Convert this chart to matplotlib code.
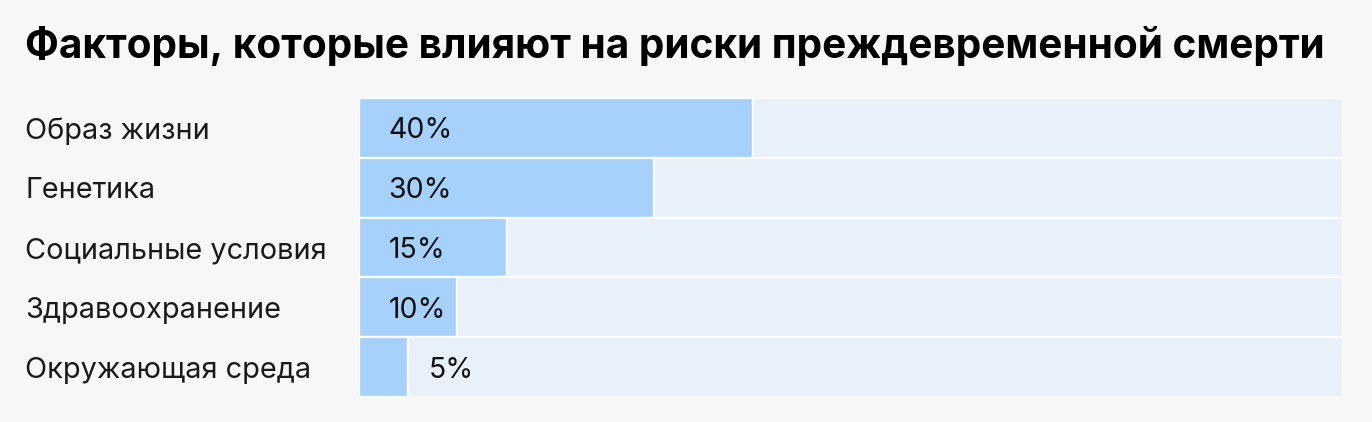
import matplotlib
matplotlib.use("Agg")
import matplotlib.pyplot as plt

categories = ["Образ жизни", "Генетика", "Социальные условия", "Здравоохранение", "Окружающая среда"]
values = [40, 30, 15, 10, 5]
value_labels = ["40%", "30%", "15%", "10%", "5%"]
total = 100
title = "Факторы, которые влияют на риски преждевременной смерти"

plt.rcParams['font.family'] = ['Inter', 'DejaVu Sans']

W, H, DPI = 1372, 422, 100
fig = plt.figure(figsize=(W / DPI, H / DPI), dpi=DPI, facecolor="#f7f7f7")
ax = fig.add_axes([359 / W, 1 - 397 / H, (1343 - 359) / W, (397 - 98) / H])
ax.set_facecolor("#f7f7f7")

ys = list(range(len(categories)))
rest = [total - v for v in values]
ax.barh(ys, values, height=1.0, color="#a6d1fa", edgecolor="white", linewidth=1.6)
ax.barh(ys, rest, left=values, height=1.0, color="#e8f0f9", edgecolor="white", linewidth=1.6)

for y, v, lab in zip(ys, values, value_labels):
    x = 3.0 if v > 8 else v + 2.1
    ax.text(x, y, lab, va="center_baseline", ha="left", fontsize=20.5, color="#111111")

ax.set_xlim(0, total)
ax.set_ylim(len(categories) - 0.5, -0.5)
ax.set_xticks([])
ax.set_yticks([])
for s in ax.spines.values():
    s.set_visible(False)

for y, c in zip(ys, categories):
    ax.annotate(c, xy=(0, y), xycoords=("figure fraction", "data"),
                xytext=(25, 0), textcoords="offset pixels",
                va="center_baseline", ha="left", fontsize=20.8, color="#1a1a1a")

fig.text(25 / W, 1 - 58 / H, title, fontsize=29.2, fontweight="bold", color="#000000",
         ha="left", va="baseline")

fig.savefig("out.png", dpi=DPI, facecolor=fig.get_facecolor())
